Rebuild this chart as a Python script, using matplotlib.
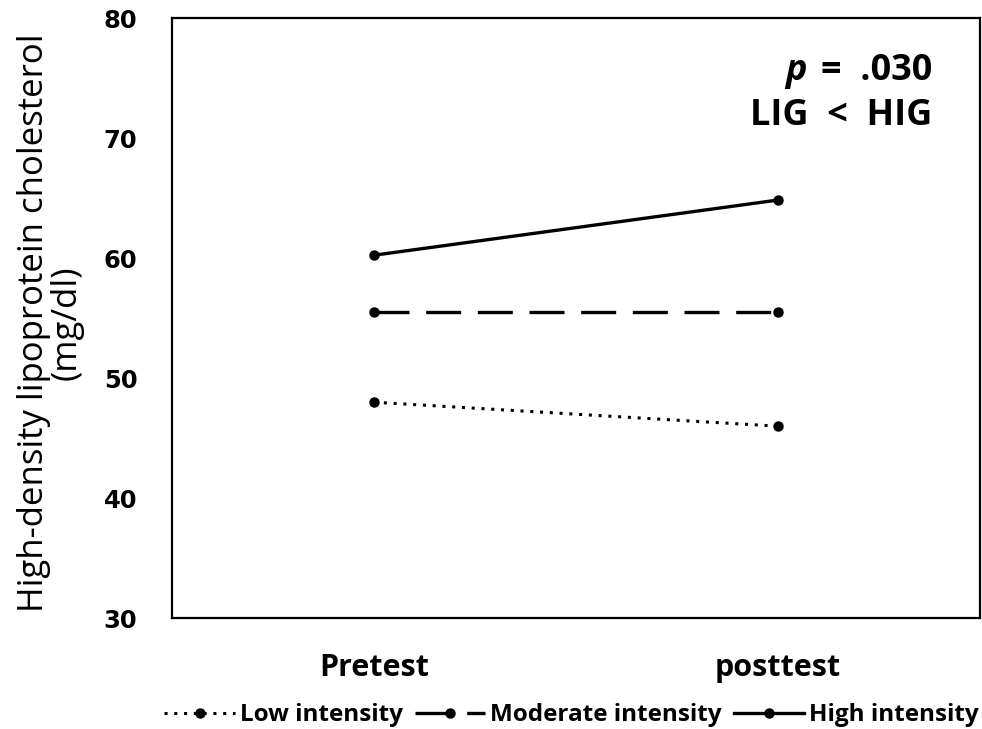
import matplotlib
matplotlib.use('Agg')
import matplotlib.pyplot as plt

plt.rcParams['font.family'] = ['Open Sans', 'DejaVu Sans']

# datos
tiempos = ['Pretest', 'posttest']
low = [48.0, 46.0]
moderate = [55.5, 55.5]
high = [60.25, 64.85]
y_ticks = [30, 40, 50, 60, 70, 80]

fig = plt.figure(figsize=(9.82, 7.29), dpi=100)
ax = fig.add_axes([0.1752, 0.152, 0.823, 0.823])

x = range(len(tiempos))
ax.plot(x, low, color='black', linestyle=(0, (1, 2.2)), linewidth=2.2,
        marker='o', markersize=6.5, label='Low intensity')
ax.plot(x, moderate, color='black', linestyle=(0, (10.5, 5)), linewidth=2.4,
        marker='o', markersize=6.5, label='Moderate intensity')
ax.plot(x, high, color='black', linestyle='-', linewidth=2.4,
        marker='o', markersize=6.5, label='High intensity')

ax.set_xlim(-0.5, 1.5)
ax.set_ylim(30, 80)
ax.set_yticks(y_ticks)
ax.set_yticklabels([str(v) for v in y_ticks], family='DejaVu Sans',
                   fontsize=17.5, fontweight='bold')
ax.set_xticks(list(x))
ax.set_xticklabels(tiempos, fontsize=22, fontweight='bold')
ax.tick_params(axis='y', length=0, pad=25)
ax.tick_params(axis='x', length=0, pad=25)
for s in ax.spines.values():
    s.set_linewidth(1.6)

fig.text(0.051, 0.557, 'High-density lipoprotein cholesterol\n(mg/dl)',
         rotation=90, ha='center', va='center', fontsize=25,
         linespacing=0.95)

t = ax.text(0.9406, 0.897, '=  .030', transform=ax.transAxes, ha='right',
            va='baseline', fontsize=26, fontweight='bold')
ax.annotate('p', xy=(0, 0), xycoords=t, xytext=(-10, 0),
            textcoords='offset points', ha='right', va='bottom',
            fontsize=26, fontweight='bold', fontstyle='italic')
ax.text(0.9406, 0.822, 'LIG  <  HIG', transform=ax.transAxes, ha='right',
        va='baseline', fontsize=26, fontweight='bold')

fig.legend(loc='center', bbox_to_anchor=(0.582, 0.019), ncol=3,
           frameon=False, handlelength=2.9, handletextpad=0.2,
           columnspacing=0.5, prop={'weight': 'bold', 'size': 17.5})

plt.savefig('out.png', dpi=100)
